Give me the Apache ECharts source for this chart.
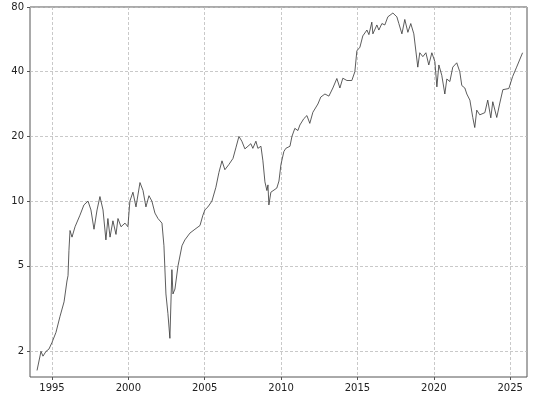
<!DOCTYPE html>
<html>
<head>
<meta charset="utf-8">
<script src="https://cdn.jsdelivr.net/npm/echarts@6/dist/echarts.min.js"></script>
<style>html,body{margin:0;padding:0;background:#fff}#c{width:539px;height:400px}</style>
</head>
<body>
<div id="c"></div>
<script>
// decimal years and values
const years = [1994.02,1994.28,1994.41,1994.61,1994.80,1995.00,1995.26,1995.52,1995.79,1995.98,1996.05,1996.11,1996.18,1996.31,1996.51,1996.83,1997.09,1997.36,1997.55,1997.75,1997.95,1998.14,1998.34,1998.53,1998.66,1998.80,1998.99,1999.19,1999.32,1999.52,1999.78,1999.97,2000.10,2000.30,2000.50,2000.76,2000.96,2001.15,2001.35,2001.54,2001.74,2001.94,2002.20,2002.33,2002.46,2002.59,2002.72,2002.85,2002.92,2003.05,2003.25,2003.51,2003.70,2004.03,2004.36,2004.69,2004.88,2005.01,2005.21,2005.47,2005.73,2005.93,2006.13,2006.32,2006.58,2006.85,2007.04,2007.24,2007.43,2007.63,2007.83,2008.02,2008.15,2008.35,2008.48,2008.68,2008.81,2008.94,2009.07,2009.14,2009.20,2009.33,2009.46,2009.72,2009.86,2009.99,2010.18,2010.31,2010.58,2010.71,2010.90,2011.10,2011.23,2011.49,2011.69,2011.88,2012.08,2012.41,2012.60,2012.87,2013.13,2013.39,2013.65,2013.85,2014.04,2014.31,2014.63,2014.83,2014.96,2015.16,2015.35,2015.62,2015.75,2015.94,2016.01,2016.27,2016.40,2016.60,2016.79,2016.99,2017.32,2017.58,2017.71,2017.91,2018.10,2018.30,2018.49,2018.69,2018.95,2019.08,2019.28,2019.48,2019.67,2019.87,2020.07,2020.20,2020.33,2020.52,2020.72,2020.85,2021.05,2021.24,2021.50,2021.70,2021.83,2022.03,2022.16,2022.36,2022.55,2022.68,2022.81,2023.01,2023.34,2023.53,2023.73,2023.86,2024.12,2024.32,2024.52,2024.65,2024.91,2025.16,2025.42,2025.55,2025.81];
const values = [1.63,2.0,1.9,2.0,2.05,2.2,2.45,2.9,3.4,4.25,4.5,5.9,7.3,6.8,7.6,8.6,9.6,10,9.1,7.4,9.1,10.5,9.1,6.6,8.3,6.8,8.1,7.0,8.3,7.6,7.9,7.6,10,11,9.4,12.2,11.2,9.4,10.6,10,8.8,8.3,7.9,6.2,3.7,3.0,2.3,4.8,3.7,3.9,5.0,6.2,6.6,7.1,7.4,7.7,8.6,9.1,9.4,10,11.6,13.6,15.4,14.0,14.8,15.8,17.7,20,19.0,17.5,18.0,18.5,17.6,19,17.6,18,15.4,12.3,11.2,11.9,9.6,11,11.2,11.5,12.4,14.8,17,17.6,18,20,21.8,21.3,22.6,24.2,25,23,25.9,28.3,30.5,31.5,30.8,33.6,37.2,33.6,37.3,36.4,36.4,40,50,52,58.7,62.5,59.5,68,60,66,62.5,67,66,72,75,72,67,60,70,61,67,60,42,49,47,49,43,49,44.5,34,43,38.5,31.5,37,36,42,44,40,34.5,33.6,31.5,29.5,24.5,22,26.5,25.2,25.8,29.5,24.4,29,24.5,28.6,33,33.6,33.4,38,42,42.5,49];
const xTicks = [1995, 2000, 2005, 2010, 2015, 2020, 2025];
const yTicks = [2, 5, 10, 20, 40, 80];

const chart = echarts.init(document.getElementById('c'));
const gridLine = { show: true, lineStyle: { color: '#bbb', type: [3, 2], width: 0.8 } };
chart.setOption({
  animation: false,
  grid: { left: 30, right: 12, top: 7, bottom: 23, show: true, borderColor: '#555', borderWidth: 1 },
  xAxis: {
    type: 'value', min: 1993.56, max: 2026.1,
    axisLine: { show: false },
    axisTick: { show: true, customValues: xTicks, length: 3, lineStyle: { color: '#555' } },
    axisLabel: { customValues: xTicks, formatter: v => String(v), color: '#222', fontFamily: 'DejaVu Sans', fontSize: 10, margin: 6 },
    splitLine: gridLine
  },
  yAxis: {
    type: 'log', logBase: 2, min: 1.52, max: 80,
    axisLine: { show: false },
    axisTick: { show: true, customValues: yTicks, length: 3, lineStyle: { color: '#555' } },
    axisLabel: { customValues: yTicks, formatter: v => String(v), color: '#222', fontFamily: 'DejaVu Sans', fontSize: 10, margin: 6 },
    splitLine: gridLine
  },
  series: [{
    type: 'line', showSymbol: false, symbol: 'none',
    data: years.map((y, i) => [y, values[i]]),
    lineStyle: { color: '#333', width: 0.8 }
  }]
});
</script>
</body>
</html>
